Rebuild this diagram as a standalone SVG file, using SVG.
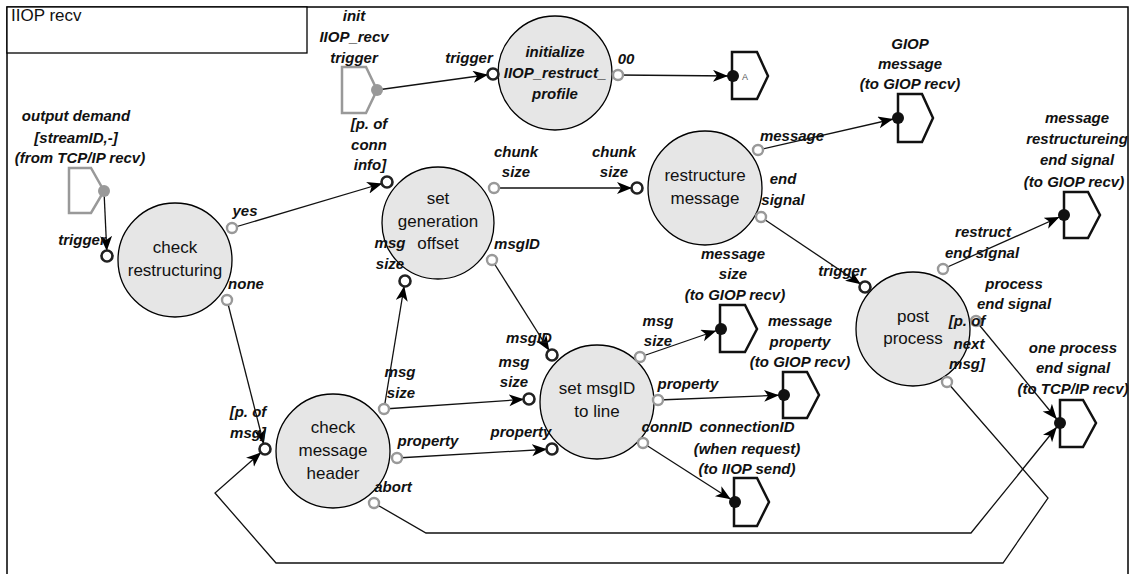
<svg xmlns="http://www.w3.org/2000/svg" width="1133" height="574" viewBox="0 0 1133 574">
<style>
.frame{fill:#fff;stroke:#000;stroke-width:1.5}
.proc{fill:#e6e6e6;stroke:#000;stroke-width:1.3}
.pt{font-family:"Liberation Sans",Arial,sans-serif;font-size:17px;fill:#111;text-anchor:middle}
.lb{font-family:"Liberation Sans",Arial,sans-serif;font-size:15px;font-weight:bold;font-style:italic;fill:#111;text-anchor:middle}
.title{font-family:"Liberation Sans",Arial,sans-serif;font-size:17px;fill:#111}
.out{fill:#fff;stroke:#999;stroke-width:2.4}
.in{fill:#fff;stroke:#222;stroke-width:2.6}
.sig{fill:#fff;stroke:#999;stroke-width:2.5;stroke-linejoin:miter}
.sigdot{fill:#999}
.term{fill:#fff;stroke:#111;stroke-width:2.5;stroke-linejoin:miter}
.tdot{fill:#111}
.conn{fill:none;stroke:#111;stroke-width:1.3;marker-end:url(#arr)}
</style>
<defs>
<marker id="arr" markerUnits="userSpaceOnUse" markerWidth="22" markerHeight="14" refX="20" refY="6" orient="auto">
<path d="M0,0 L15,6 L0,12 L4,6 z" fill="#000"/>
</marker>
</defs>
<rect class="frame" x="7" y="7" width="1121" height="600"/>
<g id="title">
<rect x="7" y="7" width="300" height="46" fill="#fff" stroke="#000" stroke-width="1.3"/>
<text class="title" x="11" y="21">IIOP recv</text>
</g>
<g id="connectors">
<line class="conn" x1="377" y1="90" x2="493" y2="74"/>
<line class="conn" x1="618" y1="75" x2="733" y2="76"/>
<line class="conn" x1="104" y1="191" x2="107" y2="256"/>
<line class="conn" x1="232" y1="228" x2="387" y2="182"/>
<line class="conn" x1="227" y1="300" x2="265" y2="449"/>
<line class="conn" x1="494" y1="188" x2="637" y2="188"/>
<line class="conn" x1="758" y1="150" x2="898" y2="118"/>
<line class="conn" x1="761" y1="217" x2="865" y2="287"/>
<line class="conn" x1="943" y1="269" x2="1064" y2="215"/>
<line class="conn" x1="976" y1="321" x2="1060" y2="423"/>
<line class="conn" x1="492" y1="260" x2="552" y2="355"/>
<line class="conn" x1="384" y1="409" x2="405" y2="281"/>
<line class="conn" x1="384" y1="409" x2="529" y2="399"/>
<line class="conn" x1="397" y1="458" x2="552" y2="449"/>
<line class="conn" x1="640" y1="357" x2="721" y2="329"/>
<line class="conn" x1="658" y1="400" x2="784" y2="395"/>
<line class="conn" x1="643" y1="443" x2="735" y2="502"/>
<polyline class="conn" points="374,503 426,533 971,533 1060,423"/>
<polyline class="conn" points="947,382 1048,498 1003,563 276,563 215,493 265,449"/>
</g>
<g id="sig-init">
<polygon class="sig" points="342,67 366,67 377,90 366,113 342,113"/>
<circle class="sigdot" cx="377" cy="90" r="6"/>
<text class="lb" x="354" y="21">init</text>
<text class="lb" x="354" y="42">IIOP_recv</text>
<text class="lb" x="354" y="63">trigger</text>
</g>
<g id="sig-output-demand">
<polygon class="sig" points="69,168 91,168 104,191 91,213 69,213"/>
<circle class="sigdot" cx="104" cy="191" r="6"/>
<text class="lb" x="76" y="121">output demand</text>
<text class="lb" x="76" y="143">[streamID,-]</text>
<text class="lb" x="80" y="163">(from TCP/IP recv)</text>
</g>
<g id="initialize">
<circle class="proc" cx="555" cy="73" r="57"/>
<text class="lb" x="555" y="57">initialize</text>
<text class="lb" x="555" y="78">IIOP_restruct_</text>
<text class="lb" x="555" y="99">profile</text>
<circle class="in" cx="493" cy="74" r="5.5"/>
<text class="lb" x="469" y="63">trigger</text>
<circle class="out" cx="618" cy="75" r="5"/>
<text class="lb" x="626" y="64">00</text>
</g>
<g id="term-A">
<polygon class="term" points="732,52 757,52 768,76 757,99 732,99"/>
<circle class="tdot" cx="733" cy="76" r="6"/>
<text x="742" y="80" font-family="Liberation Sans,Arial,sans-serif" font-size="9" fill="#555">A</text>
</g>
<g id="check-restructuring">
<circle class="proc" cx="175" cy="260" r="57"/>
<text class="pt" x="175" y="253">check</text>
<text class="pt" x="175" y="276">restructuring</text>
<circle class="in" cx="107" cy="256" r="5.5"/>
<text class="lb" x="82" y="245">trigger</text>
<circle class="out" cx="232" cy="228" r="5"/>
<text class="lb" x="245" y="216">yes</text>
<circle class="out" cx="227" cy="300" r="5"/>
<text class="lb" x="246" y="289">none</text>
</g>
<g id="set-generation-offset">
<circle class="proc" cx="438" cy="223" r="56"/>
<text class="pt" x="438" y="204">set</text>
<text class="pt" x="438" y="227">generation</text>
<text class="pt" x="438" y="249">offset</text>
<circle class="in" cx="387" cy="182" r="5.5"/>
<text class="lb" x="369" y="129">[p. of</text>
<text class="lb" x="369" y="150">conn</text>
<text class="lb" x="370" y="170">info]</text>
<circle class="in" cx="405" cy="281" r="5.5"/>
<text class="lb" x="390" y="248">msg</text>
<text class="lb" x="390" y="269">size</text>
<circle class="out" cx="494" cy="188" r="5"/>
<text class="lb" x="516" y="157">chunk</text>
<text class="lb" x="516" y="177">size</text>
<circle class="out" cx="492" cy="260" r="5"/>
<text class="lb" x="517" y="249">msgID</text>
</g>
<g id="restructure-message">
<circle class="proc" cx="705" cy="188" r="57"/>
<text class="pt" x="705" y="181">restructure</text>
<text class="pt" x="705" y="204">message</text>
<circle class="in" cx="637" cy="188" r="5.5"/>
<text class="lb" x="614" y="157">chunk</text>
<text class="lb" x="614" y="177">size</text>
<circle class="out" cx="758" cy="150" r="5"/>
<text class="lb" x="792" y="141">message</text>
<circle class="out" cx="761" cy="217" r="5"/>
<text class="lb" x="783" y="184">end</text>
<text class="lb" x="783" y="205">signal</text>
</g>
<g id="term-giop-message">
<polygon class="term" points="898,94 922,94 933,118 922,142 898,142"/>
<circle class="tdot" cx="898" cy="118" r="6"/>
<text class="lb" x="910" y="49">GIOP</text>
<text class="lb" x="910" y="69">message</text>
<text class="lb" x="910" y="89">(to GIOP recv)</text>
</g>
<g id="term-restructuring-end">
<polygon class="term" points="1064,192 1088,192 1100,215 1088,238 1064,238"/>
<circle class="tdot" cx="1064" cy="215" r="6"/>
<text class="lb" x="1077" y="123">message</text>
<text class="lb" x="1077" y="144">restructureing</text>
<text class="lb" x="1077" y="165">end signal</text>
<text class="lb" x="1074" y="187">(to GIOP recv)</text>
</g>
<g id="post-process">
<circle class="proc" cx="913" cy="329" r="57"/>
<text class="pt" x="913" y="322">post</text>
<text class="pt" x="913" y="344">process</text>
<circle class="in" cx="865" cy="287" r="5.5"/>
<text class="lb" x="842" y="276">trigger</text>
<circle class="out" cx="943" cy="269" r="5"/>
<text class="lb" x="983" y="237">restruct</text>
<text class="lb" x="982" y="258">end signal</text>
<circle class="out" cx="976" cy="321" r="5"/>
<text class="lb" x="1014" y="289">process</text>
<text class="lb" x="1014" y="309">end signal</text>
<circle class="out" cx="947" cy="382" r="5"/>
<text class="lb" x="967" y="326">[p. of</text>
<text class="lb" x="969" y="349">next</text>
<text class="lb" x="967" y="369">msg]</text>
</g>
<g id="term-one-process-end">
<polygon class="term" points="1060,400 1083,400 1096,423 1083,447 1060,447"/>
<circle class="tdot" cx="1060" cy="423" r="6"/>
<text class="lb" x="1073" y="353">one process</text>
<text class="lb" x="1073" y="373">end signal</text>
<text class="lb" x="1073" y="394">(to TCP/IP recv)</text>
</g>
<g id="set-msgid-to-line">
<circle class="proc" cx="597" cy="402" r="57"/>
<text class="pt" x="597" y="394">set msgID</text>
<text class="pt" x="597" y="417">to line</text>
<circle class="in" cx="552" cy="355" r="5.5"/>
<text class="lb" x="529" y="343">msgID</text>
<circle class="in" cx="529" cy="399" r="5.5"/>
<text class="lb" x="514" y="367">msg</text>
<text class="lb" x="514" y="387">size</text>
<circle class="in" cx="552" cy="449" r="5.5"/>
<text class="lb" x="521" y="437">property</text>
<circle class="out" cx="640" cy="357" r="5"/>
<text class="lb" x="658" y="326">msg</text>
<text class="lb" x="658" y="346">size</text>
<circle class="out" cx="658" cy="400" r="5"/>
<text class="lb" x="688" y="389">property</text>
<circle class="out" cx="643" cy="443" r="5"/>
<text class="lb" x="667" y="432">connID</text>
</g>
<g id="term-message-size">
<polygon class="term" points="720,305 745,305 757,329 745,352 720,352"/>
<circle class="tdot" cx="721" cy="329" r="6"/>
<text class="lb" x="733" y="259">message</text>
<text class="lb" x="733" y="279">size</text>
<text class="lb" x="735" y="300">(to GIOP recv)</text>
</g>
<g id="term-message-property">
<polygon class="term" points="783,372 807,372 819,395 807,418 783,418"/>
<circle class="tdot" cx="784" cy="395" r="6"/>
<text class="lb" x="800" y="326">message</text>
<text class="lb" x="800" y="347">property</text>
<text class="lb" x="800" y="367">(to GIOP recv)</text>
</g>
<g id="term-connection-id">
<polygon class="term" points="734,478 757,478 769,502 757,526 734,526"/>
<circle class="tdot" cx="735" cy="502" r="6"/>
<text class="lb" x="747" y="432">connectionID</text>
<text class="lb" x="747" y="454">(when request)</text>
<text class="lb" x="747" y="474">(to IIOP send)</text>
</g>
<g id="check-message-header">
<circle class="proc" cx="333" cy="451" r="57"/>
<text class="pt" x="333" y="433">check</text>
<text class="pt" x="333" y="456">message</text>
<text class="pt" x="333" y="479">header</text>
<circle class="in" cx="265" cy="449" r="5.5"/>
<text class="lb" x="248" y="417">[p. of</text>
<text class="lb" x="248" y="438">msg]</text>
<circle class="out" cx="384" cy="409" r="5"/>
<text class="lb" x="400" y="377">msg</text>
<text class="lb" x="401" y="398">size</text>
<circle class="out" cx="397" cy="458" r="5"/>
<text class="lb" x="428" y="446">property</text>
<circle class="out" cx="374" cy="503" r="5"/>
<text class="lb" x="393" y="492">abort</text>
</g>
</svg>
